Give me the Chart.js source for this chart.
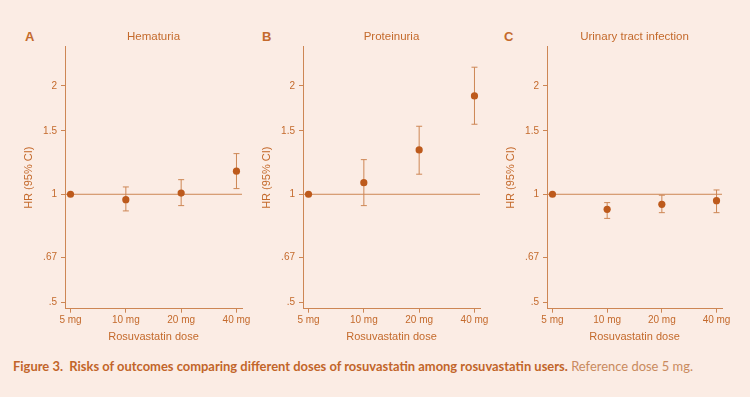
<!DOCTYPE html>
<html>
<head>
<meta charset="utf-8">
<script src="https://cdn.jsdelivr.net/npm/chart.js@4.4.0/dist/chart.umd.min.js"></script>
<style>
  body { margin: 0; background: #fbece4; width: 750px; height: 397px; overflow: hidden; position: relative; }
  canvas { position: absolute; top: 20px; }
  .letter { position: absolute; top: 29px; font: bold 13px "Liberation Sans", Arial, sans-serif; color: #c46a2c; }
  #caption { position: absolute; left: 13px; top: 358px; font: 13px Lato, "Open Sans", sans-serif; white-space: nowrap; transform-origin: 0 0; }
  #caption b { color: #c2652a; }
  #caption span { color: #c98a5e; }
</style>
</head>
<body>
<div class="letter" style="left:25px">A</div>
<div class="letter" style="left:262px">B</div>
<div class="letter" style="left:504px">C</div>
<canvas id="hem" width="262" height="330" style="left:0px"></canvas>
<canvas id="prot" width="262" height="330" style="left:238px"></canvas>
<canvas id="uti" width="260" height="330" style="left:482px"></canvas>
<div id="caption"><b>Figure 3.&nbsp; Risks of outcomes comparing different doses of rosuvastatin among rosuvastatin users.</b> <span>Reference dose 5 mg.</span></div>
<script>
// doses (x categories)
const doses = ['5 mg', '10 mg', '20 mg', '40 mg'];

// HR with 95% CI (5 mg is the reference)
const hemHR = [1, 0.966, 1.008, 1.159];
const hemLo = [null, 0.899, 0.930, 1.037];
const hemHi = [null, 1.048, 1.098, 1.297];

const protHR = [1, 1.077, 1.328, 1.876];
const protLo = [null, 0.930, 1.137, 1.565];
const protHi = [null, 1.248, 1.545, 2.254];

const utiHR = [1, 0.908, 0.938, 0.960];
const utiLo = [null, 0.857, 0.889, 0.889];
const utiHi = [null, 0.948, 0.994, 1.028];

const yTicks = [0.5, 0.667, 1, 1.5, 2];
const yTickLabels = ['.5', '.67', '1', '1.5', '2'];

const textColor = '#c46a2c';
const lineColor = '#cd8654';
const dotColor = '#bd5a1c';

Chart.defaults.font.family = '"Liberation Sans", Arial, sans-serif';
Chart.defaults.color = textColor;

// reference line at HR = 1, CI whiskers and panel title
const errorBars = {
  id: 'errorBars',
  beforeDatasetsDraw(chart) {
    const { ctx, chartArea } = chart;
    const y = chart.scales.y.getPixelForValue(1);
    ctx.save();
    ctx.strokeStyle = lineColor;
    ctx.lineWidth = 1;
    ctx.beginPath();
    ctx.moveTo(chartArea.left, y);
    ctx.lineTo(chartArea.right, y);
    ctx.stroke();

    const ds = chart.data.datasets[0];
    ds.data.forEach((p, i) => {
      if (ds.lo[i] == null) return;
      const x = chart.scales.x.getPixelForValue(p.x);
      const y0 = chart.scales.y.getPixelForValue(ds.lo[i]);
      const y1 = chart.scales.y.getPixelForValue(ds.hi[i]);
      ctx.beginPath();
      ctx.moveTo(x, y0); ctx.lineTo(x, y1);
      ctx.moveTo(x - 3, y0); ctx.lineTo(x + 3, y0);
      ctx.moveTo(x - 3, y1); ctx.lineTo(x + 3, y1);
      ctx.stroke();
    });
    ctx.restore();
  },
  afterDraw(chart) {
    const { ctx, chartArea } = chart;
    ctx.save();
    ctx.fillStyle = textColor;
    ctx.font = '11.5px "Liberation Sans", Arial, sans-serif';
    ctx.textAlign = 'center';
    ctx.textBaseline = 'middle';
    ctx.fillText(chart.options.panelTitle, (chartArea.left + chartArea.right) / 2, 16.7);
    ctx.restore();
  }
};

function makePanel(id, title, hr, lo, hi) {
  return new Chart(document.getElementById(id), {
    type: 'scatter',
    data: {
      datasets: [{
        data: hr.map((v, i) => ({ x: i + 1, y: v })),
        lo: lo,
        hi: hi,
        pointRadius: 3.6,
        pointHoverRadius: 3.6,
        pointBackgroundColor: dotColor,
        pointBorderWidth: 0,
        showLine: false
      }]
    },
    options: {
      panelTitle: title,
      responsive: false,
      animation: false,
      layout: { padding: { top: 26.7, right: 20, left: 0, bottom: 0 } },
      plugins: { legend: { display: false }, tooltip: { enabled: false } },
      scales: {
        x: {
          type: 'linear',
          min: 0.9,
          max: 4.1,
          afterBuildTicks: s => { s.ticks = doses.map((d, i) => ({ value: i + 1 })); },
          afterFit: s => { s.height = 41.3; },
          ticks: {
            callback: v => doses[v - 1],
            autoSkip: false, maxRotation: 0, padding: 2,
            font: { size: 10 }
          },
          grid: { display: true, drawOnChartArea: false, drawTicks: true, tickLength: 4, color: lineColor },
          border: { display: true, color: lineColor },
          title: { display: true, text: 'Rosuvastatin dose', font: { size: 11 }, padding: { top: 0, bottom: 6.7 } }
        },
        y: {
          type: 'logarithmic',
          min: 0.481,
          max: 2.57,
          afterBuildTicks: s => { s.ticks = yTicks.map(v => ({ value: v })); },
          afterFit: s => { s.width = 65; },
          ticks: {
            callback: (v, i) => yTickLabels[i],
            autoSkip: false, padding: 4,
            font: { size: 10 }
          },
          grid: { display: true, drawOnChartArea: false, drawTicks: true, tickLength: 4, color: lineColor },
          border: { display: true, color: lineColor },
          title: { display: true, text: 'HR (95% CI)', font: { size: 11 }, padding: { top: 22.8, bottom: 0 } }
        }
      }
    },
    plugins: [errorBars]
  });
}

makePanel('hem', 'Hematuria', hemHR, hemLo, hemHi);
makePanel('prot', 'Proteinuria', protHR, protLo, protHi);
makePanel('uti', 'Urinary tract infection', utiHR, utiLo, utiHi);

// fit caption to the width it takes in the figure
const cap = document.getElementById('caption');
cap.style.transform = 'scaleX(' + (680 / cap.getBoundingClientRect().width) + ')';
</script>
</body>
</html>
